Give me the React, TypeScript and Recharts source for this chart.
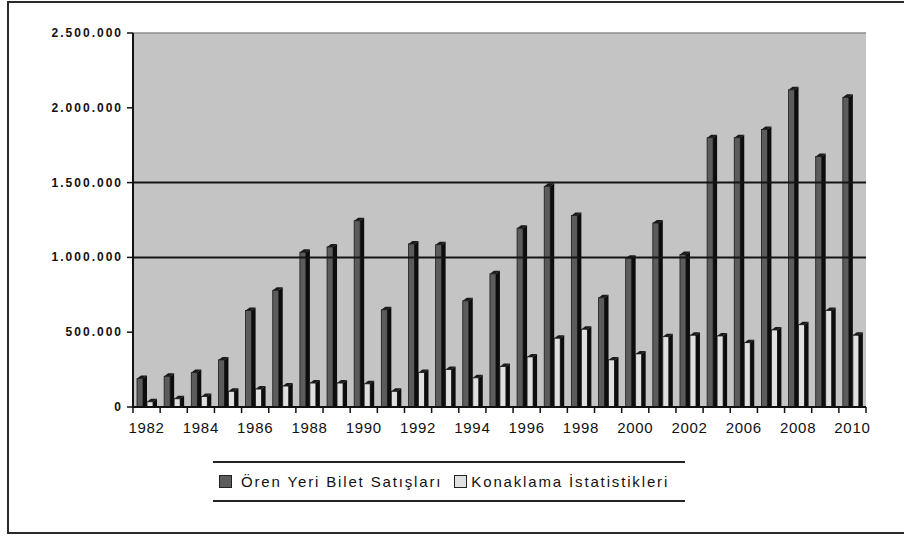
import React from 'react';
import { BarChart, Bar, XAxis, YAxis, CartesianGrid, ReferenceLine } from 'recharts';

const years = [
  '1982', '1983', '1984', '1985', '1986', '1987', '1988', '1989', '1990', '1991',
  '1992', '1993', '1994', '1995', '1996', '1997', '1998', '1999', '2000', '2001',
  '2002', '2005', '2006', '2007', '2008', '2009', '2010',
];
const siteTickets = [
  210000, 225000, 250000, 335000, 665000, 800000, 1055000, 1090000, 1265000, 670000,
  1110000, 1105000, 730000, 910000, 1215000, 1495000, 1300000, 750000, 1015000, 1250000,
  1040000, 1820000, 1820000, 1875000, 2140000, 1695000, 2090000,
];
const lodging = [
  55000, 75000, 90000, 125000, 140000, 160000, 180000, 180000, 175000, 125000,
  250000, 270000, 215000, 290000, 355000, 480000, 540000, 335000, 375000, 490000,
  500000, 495000, 450000, 535000, 570000, 665000, 500000,
];
const seriesNames = ['Ören Yeri Bilet Satışları', 'Konaklama İstatistikleri'];
const seriesColors = ['#5c5c5c', '#e0e0e0'];
const yTicks = [0, 500000, 1000000, 1500000, 2000000, 2500000];
const gridValues = [1000000, 1500000];

const data = years.map((year, i) => ({ year, sites: siteTickets[i], lodging: lodging[i] }));

const fmt = (v: number) => String(v).replace(/\B(?=(\d{3})+(?!\d))/g, '.');
const FONT = "'Liberation Sans', Arial, sans-serif";

const Bar3D = (props: any) => {
  const { x, y, width, height, fill } = props;
  if (width == null || height == null || isNaN(y)) return null;
  const d = 4;
  const dy = 3;
  const fw = width - d;
  const top = y + dy;
  const bottom = y + height;
  return (
    <g>
      <rect x={x} y={top} width={fw} height={Math.max(0, bottom - top)} fill={fill} stroke="#1a1a1a" strokeWidth={0.8} />
      <polygon points={`${x + fw},${top} ${x + width},${y} ${x + width},${bottom} ${x + fw},${bottom}`} fill="#0d0d0d" />
      <polygon points={`${x},${top} ${x + d},${y} ${x + width},${y} ${x + fw},${top}`} fill="#1a1a1a" />
    </g>
  );
};

const XTick = (props: any) => {
  const { x, y, payload, index, width } = props;
  const band = width / years.length;
  return (
    <g>
      <line x1={x - band / 2} y1={y} x2={x - band / 2} y2={y + 6} stroke="#111" strokeWidth={1.5} />
      {index === years.length - 1 && (
        <line x1={x + band / 2} y1={y} x2={x + band / 2} y2={y + 6} stroke="#111" strokeWidth={1.5} />
      )}
      {index % 2 === 0 && (
        <text x={x} y={y + 26} textAnchor="middle" fontSize={15} fill="#111" fontFamily={FONT} style={{ letterSpacing: '0.7px' }}>
          {payload.value}
        </text>
      )}
    </g>
  );
};

const YTick = (props: any) => {
  const { x, y, payload } = props;
  return (
    <text x={x} y={y} dy={4} textAnchor="end" fontSize={12} fontWeight={700} fill="#111" fontFamily={FONT} style={{ letterSpacing: '2px' }}>
      {fmt(payload.value)}
    </text>
  );
};

export default function App() {
  return (
    <div style={{ position: 'absolute', left: 0, top: 0, width: 904, height: 536, overflow: 'hidden', background: '#fff' }}>
      <div style={{ position: 'absolute', left: 7, top: 1, width: 940, height: 533, border: '2px solid #2a2a2a', boxSizing: 'border-box' }} />
      <div style={{ position: 'absolute', left: 0, top: 0 }}>
        <BarChart width={904} height={536} data={data} margin={{ top: 33, right: 38, left: 0, bottom: 99 }} barSize={10} barGap={0}>
          <CartesianGrid horizontal={false} vertical={false} fill="#c4c4c4" />
          <XAxis
            dataKey="year"
            height={30}
            interval={0}
            tickSize={0}
            tickMargin={0}
            tickLine={false}
            axisLine={{ stroke: '#111', strokeWidth: 2 }}
            tick={<XTick />}
          />
          <YAxis
            width={133}
            domain={[0, 2500000]}
            ticks={yTicks}
            interval={0}
            tickSize={6}
            tickMargin={4}
            tickLine={{ stroke: '#111', strokeWidth: 1.5 }}
            axisLine={{ stroke: '#111', strokeWidth: 2 }}
            tick={<YTick />}
          />
          <YAxis
            yAxisId="edge"
            orientation="right"
            width={0}
            domain={[0, 2500000]}
            tick={false}
            tickLine={false}
            axisLine={{ stroke: '#8c8c8c', strokeWidth: 1.5 }}
          />
          <ReferenceLine y={2500000} stroke="#8c8c8c" strokeWidth={1.5} />
          {gridValues.map((g) => (
            <ReferenceLine key={g} y={g} stroke="#151515" strokeWidth={2} />
          ))}
          <Bar dataKey="sites" name={seriesNames[0]} fill={seriesColors[0]} shape={<Bar3D />} isAnimationActive={false} />
          <Bar dataKey="lodging" name={seriesNames[1]} fill={seriesColors[1]} shape={<Bar3D />} isAnimationActive={false} />
        </BarChart>
      </div>
      <div
        style={{
          position: 'absolute', left: 213, top: 461, width: 472, height: 41,
          borderTop: '2px solid #222', borderBottom: '2px solid #222', boxSizing: 'border-box',
          display: 'flex', alignItems: 'center', fontFamily: FONT, fontSize: 15, color: '#111',
          letterSpacing: '1.85px', whiteSpace: 'nowrap',
        }}
      >
        {seriesNames.map((name, i) => (
          <div key={name} style={{ display: 'flex', alignItems: 'center', marginLeft: i === 0 ? 6 : 12 }}>
            <span style={{ display: 'inline-block', width: 11, height: 11, background: seriesColors[i], border: '1.5px solid #222', marginRight: i === 0 ? 9 : 4 }} />
            <span>{name}</span>
          </div>
        ))}
      </div>
    </div>
  );
}
